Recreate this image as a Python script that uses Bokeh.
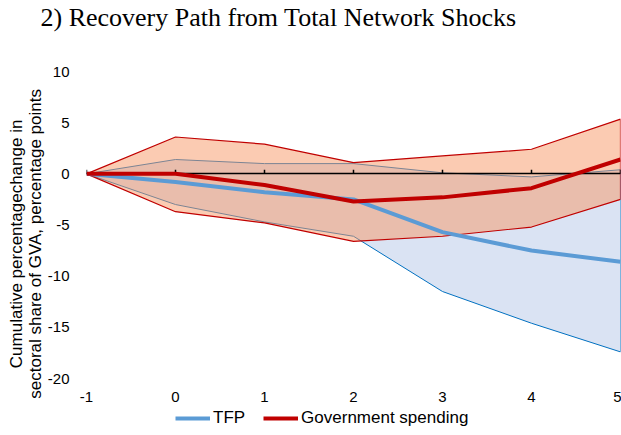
from bokeh.plotting import figure
from bokeh.models import LinearAxis, FixedTicker, Legend, LegendItem, Title, Range1d
from bokeh.layouts import column
from bokeh.embed import file_html
from bokeh.resources import INLINE
import numpy as np

periods = [-1, 0, 1, 2, 3, 4, 5]
tfp = [0, -0.8, -1.8, -2.5, -5.7, -7.5, -8.6]
tfp_hi = [0, 1.4, 1.0, 1.0, 0.1, -0.3, 0.4]
tfp_lo = [0, -3.0, -4.7, -6.1, -11.5, -14.6, -17.4]
gov = [0, 0, -1.1, -2.7, -2.3, -1.4, 1.4]
gov_hi = [0, 3.6, 2.9, 1.1, 1.75, 2.4, 5.35]
gov_lo = [0, -3.7, -4.8, -6.6, -6.1, -5.2, -2.5]
y_ticks = [-20, -15, -10, -5, 0, 5, 10]

TFP_COLOR = "#5B9BD5"
GOV_COLOR = "#C00000"


def bare(fig):
    fig.outline_line_color = None
    fig.xgrid.visible = False
    fig.ygrid.visible = False
    return fig


# title strip
tf = bare(figure(width=621, height=34, output_backend="svg", toolbar_location=None,
                 x_axis_location=None, y_axis_location=None, min_border=0,
                 x_range=Range1d(0, 1), y_range=Range1d(0, 1)))
tf.add_layout(Title(text="2) Recovery Path from Total Network Shocks",
                    text_font="Liberation Serif", text_font_size="26px",
                    text_font_style="normal", align="left", offset=-46, standoff=0,
                    text_color="black"), "above")

# main chart
p = bare(figure(width=621, height=371, output_backend="svg", toolbar_location=None,
                x_range=Range1d(-1, 5), y_range=Range1d(-20, 10),
                x_axis_location=None, y_axis_location="left",
                min_border_left=86, min_border_right=1, min_border_top=37,
                min_border_bottom=27))

xs = np.array(periods, dtype=float)
px = np.concatenate([xs, xs[::-1]])
p.patch(px, np.concatenate([np.array(tfp_lo), np.array(tfp_hi)[::-1]]),
        fill_color="#DAE3F3", line_color="#0070C0", line_width=1)
p.patch(px, np.concatenate([np.array(gov_lo), np.array(gov_hi)[::-1]]),
        fill_color="#F79765", fill_alpha=0.5, line_color=GOV_COLOR, line_width=1.2)

# zero line with upward ticks
p.hspan(y=[0], line_color="black", line_width=1.5)
p.ray(x=periods, y=[0] * len(periods), length=4, length_units="screen",
      angle=np.pi / 2, line_color="black", line_width=1.5)

lx = LinearAxis(ticker=FixedTicker(ticks=periods), axis_line_color=None,
                major_tick_line_color=None, minor_tick_line_color=None,
                major_label_overrides={v: str(v) for v in periods},
                major_label_text_font="Liberation Sans", major_label_text_font_size="15px",
                major_label_text_color="black", major_label_standoff=7)
p.add_layout(lx, "below")

ya = p.yaxis[0]
ya.ticker = FixedTicker(ticks=y_ticks)
ya.major_label_overrides = {v: str(v) for v in y_ticks}
ya.axis_line_color = None
ya.major_tick_line_color = None
ya.minor_tick_line_color = None
ya.major_label_text_font = "Liberation Sans"
ya.major_label_text_font_size = "15px"
ya.major_label_text_color = "black"
ya.major_label_standoff = 11
ya.axis_label = ("Cumulative  percentagechange in" + " " * 7 + "\n"
                 "sectoral share of GVA, percentage points" + " " * 8)
ya.axis_label_text_font = "Liberation Sans"
ya.axis_label_text_font_size = "17px"
ya.axis_label_text_font_style = "normal"
ya.axis_label_text_color = "black"
ya.axis_label_text_line_height = 1.0
ya.axis_label_standoff = 0

p.line(periods, tfp, line_color=TFP_COLOR, line_width=4)
p.line(periods, gov, line_color=GOV_COLOR, line_width=4)

# legend strip (renderers kept outside the visible range; only their legend glyphs show)
q = bare(figure(width=621, height=30, output_backend="svg", toolbar_location=None,
                x_axis_location=None, y_axis_location=None, min_border=0,
                x_range=Range1d(100, 101), y_range=Range1d(100, 101)))
l1 = q.line(periods, tfp, line_color=TFP_COLOR, line_width=4)
l2 = q.line(periods, gov, line_color=GOV_COLOR, line_width=4)
leg = Legend(items=[LegendItem(label="TFP", renderers=[l1]),
                    LegendItem(label="Government spending", renderers=[l2])],
             orientation="horizontal", location=(89, 7),
             label_text_font="Liberation Sans", label_text_font_size="17px",
             label_text_color="black", glyph_width=35, glyph_height=20,
             label_standoff=3, spacing=18, padding=0, margin=0,
             border_line_color=None, background_fill_alpha=0)
q.add_layout(leg, "center")

open("out.html", "w").write(file_html(column(tf, p, q, spacing=0), INLINE))
